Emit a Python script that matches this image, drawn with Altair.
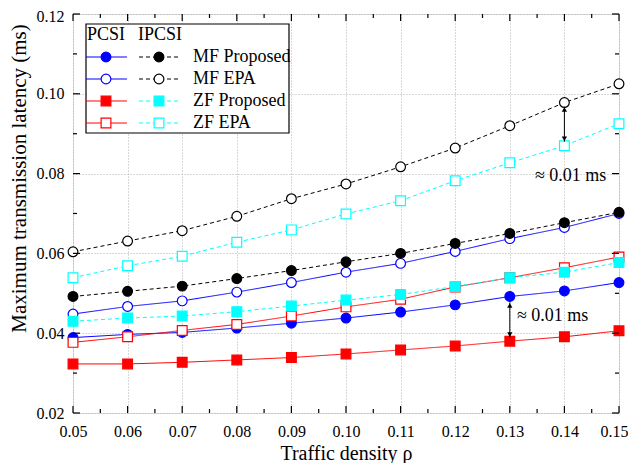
import altair as alt
import pandas as pd

# ---- data ----
rho = [0.05, 0.06, 0.07, 0.08, 0.09, 0.10, 0.11, 0.12, 0.13, 0.14, 0.15]

mf_prop_pcsi = [0.0389, 0.0397, 0.0402, 0.0413, 0.0425, 0.0438, 0.0453, 0.0471, 0.0492, 0.0506, 0.0527]
mf_epa_pcsi = [0.0448, 0.0467, 0.0481, 0.0503, 0.0527, 0.0553, 0.0575, 0.0605, 0.0637, 0.0665, 0.0700]
zf_prop_pcsi = [0.0323, 0.0323, 0.0327, 0.0333, 0.0339, 0.0348, 0.0358, 0.0368, 0.0380, 0.0391, 0.0406]
zf_epa_pcsi = [0.0377, 0.0391, 0.0407, 0.0422, 0.0443, 0.0466, 0.0485, 0.0516, 0.0539, 0.0564, 0.0591]
mf_prop_ipcsi = [0.0492, 0.0505, 0.0518, 0.0537, 0.0557, 0.0579, 0.0600, 0.0625, 0.0650, 0.0677, 0.0703]
mf_epa_ipcsi = [0.0604, 0.0631, 0.0657, 0.0693, 0.0737, 0.0774, 0.0817, 0.0864, 0.0920, 0.0978, 0.1025]
zf_prop_ipcsi = [0.0430, 0.0438, 0.0443, 0.0454, 0.0468, 0.0483, 0.0497, 0.0517, 0.0539, 0.0553, 0.0577]
zf_epa_ipcsi = [0.0539, 0.0569, 0.0593, 0.0628, 0.0659, 0.0699, 0.0732, 0.0782, 0.0827, 0.0870, 0.0925]

series_names = ["MF Proposed PCSI", "MF EPA PCSI", "ZF Proposed PCSI", "ZF EPA PCSI",
                "MF Proposed IPCSI", "MF EPA IPCSI", "ZF Proposed IPCSI", "ZF EPA IPCSI"]
series_values = [mf_prop_pcsi, mf_epa_pcsi, zf_prop_pcsi, zf_epa_pcsi,
                 mf_prop_ipcsi, mf_epa_ipcsi, zf_prop_ipcsi, zf_epa_ipcsi]
legend_labels = ["MF Proposed", "MF EPA", "ZF Proposed", "ZF EPA"]

x_major = [0.05, 0.06, 0.07, 0.08, 0.09, 0.10, 0.11, 0.12, 0.13, 0.14, 0.15]
x_minor = [0.055, 0.065, 0.075, 0.085, 0.095, 0.105, 0.115, 0.125, 0.135, 0.145]
y_major = [0.02, 0.04, 0.06, 0.08, 0.10, 0.12]
y_minor = [0.03, 0.05, 0.07, 0.09, 0.11]

arrow_x = [0.14, 0.13]
arrow_top = [0.0968, 0.0477]
arrow_bot = [0.0880, 0.0389]
note_x = [0.1346, 0.1313]
note_y = [0.0795, 0.0443]
note_text = ["\u2248 0.01 ms", "\u2248 0.01 ms"]

# ---- style ----
colors = ["#0000FF", "#0000FF", "#FF0000", "#FF0000", "#000000", "#000000", "#00FFFF", "#00FFFF"]
fills = ["#0000FF", "#FFFFFF", "#FF0000", "#FFFFFF", "#000000", "#FFFFFF", "#00FFFF", "#FFFFFF"]
dashes = [[1, 0]] * 4 + [[4, 3]] * 4
shapes = ["circle", "circle", "square", "square", "circle", "circle", "square", "square"]
FONT = "Liberation Serif"
W, H = 546, 399

rows = []
for name, vals in zip(series_names, series_values):
    for x, v in zip(rho, vals):
        rows.append({"rho": x, "lat": v, "series": name})
df = pd.DataFrame(rows)

xs = alt.Scale(domain=[0.05, 0.15], nice=False)
ys = alt.Scale(domain=[0.02, 0.12], nice=False)

base = alt.Chart(df).encode(
    x=alt.X("rho:Q", scale=xs,
            axis=alt.Axis(values=x_major, format=".2f", title="Traffic density \u03c1",
                          grid=True, gridDash=[1, 2], gridColor="#b0b0b0",
                          tickSize=0, domain=False, labelPadding=10, labelFontSize=16,
                          labelFlush=False, labelOverlap=False,
                          labelOffset={"condition": {"test": "datum.value >= 0.149", "value": -5}, "value": 0},
                          labelFont=FONT, labelColor="black", titleFont=FONT, titleFontSize=20,
                          titleFontWeight="normal", titleColor="black",
                          titleY=46, titleBaseline="alphabetic")),
    y=alt.Y("lat:Q", scale=ys,
            axis=alt.Axis(values=y_major, format=".2f", title="Maximum transmission latency (ms)",
                          grid=True, gridDash=[1, 2], gridColor="#b0b0b0",
                          tickSize=0, domain=False, labelPadding=9, labelFontSize=16,
                          labelFlush=False, labelOverlap=False,
                          labelOffset={"condition": {"test": "datum.value >= 0.119", "value": 2}, "value": 0},
                          labelFont=FONT, labelColor="black", titleFont=FONT, titleFontSize=21,
                          titleFontWeight="normal", titleColor="black",
                          titleX=-48, titleY=164, titleAlign="center", titleBaseline="alphabetic")),
    detail="series:N",
)

lines = base.mark_line(strokeWidth=1).encode(
    color=alt.Color("series:N", scale=alt.Scale(domain=series_names, range=colors), legend=None),
    strokeDash=alt.StrokeDash("series:N", scale=alt.Scale(domain=series_names, range=dashes), legend=None),
)
points = base.mark_point(filled=True, size=95, strokeWidth=1.2, opacity=1).encode(
    stroke=alt.Stroke("series:N", scale=alt.Scale(domain=series_names, range=colors), legend=None),
    fill=alt.Fill("series:N", scale=alt.Scale(domain=series_names, range=fills), legend=None),
    shape=alt.Shape("series:N", scale=alt.Scale(domain=series_names, range=shapes), legend=None),
)

# inward ticks
def ticks(vals, axis, length, side):
    d = pd.DataFrame({"v": vals})
    c = alt.Chart(d).mark_rule(color="black", strokeWidth=1.2)
    if axis == "x":
        if side == "bottom":
            return c.encode(x=alt.X("v:Q", scale=xs), y=alt.value(H), y2=alt.value(H - length))
        return c.encode(x=alt.X("v:Q", scale=xs), y=alt.value(0), y2=alt.value(length))
    if side == "left":
        return c.encode(y=alt.Y("v:Q", scale=ys), x=alt.value(0), x2=alt.value(length))
    return c.encode(y=alt.Y("v:Q", scale=ys), x=alt.value(W), x2=alt.value(W - length))

tick_layers = []
for side in ["bottom", "top"]:
    tick_layers.append(ticks(x_major, "x", 7, side))
    tick_layers.append(ticks(x_minor, "x", 4, side))
for side in ["left", "right"]:
    tick_layers.append(ticks(y_major, "y", 7, side))
    tick_layers.append(ticks(y_minor, "y", 4, side))

# annotations
adf = pd.DataFrame({"x": arrow_x, "top": arrow_top, "bot": arrow_bot})
arrow_line = alt.Chart(adf).mark_rule(color="black", strokeWidth=1).encode(
    x=alt.X("x:Q", scale=xs), y=alt.Y("top:Q", scale=ys), y2="bot:Q")
arrow_up = alt.Chart(adf).mark_point(shape="triangle-up", filled=True, color="black", size=28, opacity=1).encode(
    x=alt.X("x:Q", scale=xs), y=alt.Y("top:Q", scale=ys), yOffset=alt.value(3))
arrow_dn = alt.Chart(adf).mark_point(shape="triangle-down", filled=True, color="black", size=28, opacity=1).encode(
    x=alt.X("x:Q", scale=xs), y=alt.Y("bot:Q", scale=ys), yOffset=alt.value(-3))
ndf = pd.DataFrame({"x": note_x, "y": note_y, "t": note_text})
notes = alt.Chart(ndf).mark_text(align="left", baseline="middle", font=FONT, fontSize=18, color="black").encode(
    x=alt.X("x:Q", scale=xs), y=alt.Y("y:Q", scale=ys), text="t:N")

# legend (drawn manually)
one = alt.Data(values=[{"a": 1}])
leg = [alt.Chart(one).mark_rect(fill="white", stroke="black", strokeWidth=1.2).encode(
    x=alt.value(13), x2=alt.value(216), y=alt.value(10), y2=alt.value(119))]
leg.append(alt.Chart(one).mark_text(align="left", baseline="middle", font=FONT, fontSize=18, color="black").encode(
    x=alt.value(14), y=alt.value(21), text=alt.value("PCSI")))
leg.append(alt.Chart(one).mark_text(align="left", baseline="middle", font=FONT, fontSize=18, color="black").encode(
    x=alt.value(65), y=alt.value(21), text=alt.value("IPCSI")))
row_y = [43, 65, 87, 109]
for i, lab in enumerate(legend_labels):
    yy = row_y[i]
    for j, (x1, x2, xm) in enumerate([(13, 54, 33), (66, 107, 86)]):
        k = i + 4 * j
        leg.append(alt.Chart(one).mark_rule(color=colors[k], strokeWidth=1, strokeDash=dashes[k]).encode(
            x=alt.value(x1), x2=alt.value(x2), y=alt.value(yy)))
        leg.append(alt.Chart(one).mark_point(shape=shapes[k], filled=True, fill=fills[k], stroke=colors[k],
                                             strokeWidth=1.2, size=95, opacity=1).encode(
            x=alt.value(xm), y=alt.value(yy)))
    leg.append(alt.Chart(one).mark_text(align="left", baseline="middle", font=FONT, fontSize=18, color="black").encode(
        x=alt.value(120), y=alt.value(yy), text=alt.value(lab)))

chart = alt.layer(lines, points, *tick_layers, arrow_line, arrow_up, arrow_dn, notes, *leg).properties(
    width=W, height=H,
    autosize=alt.AutoSizeParams(type="none"),
    padding={"left": 65, "top": 6, "right": 9, "bottom": 50},
).configure_view(stroke="black", strokeWidth=1.5).configure(background="white")

chart.save("out.html", embed_options={"renderer": "svg", "actions": False})
